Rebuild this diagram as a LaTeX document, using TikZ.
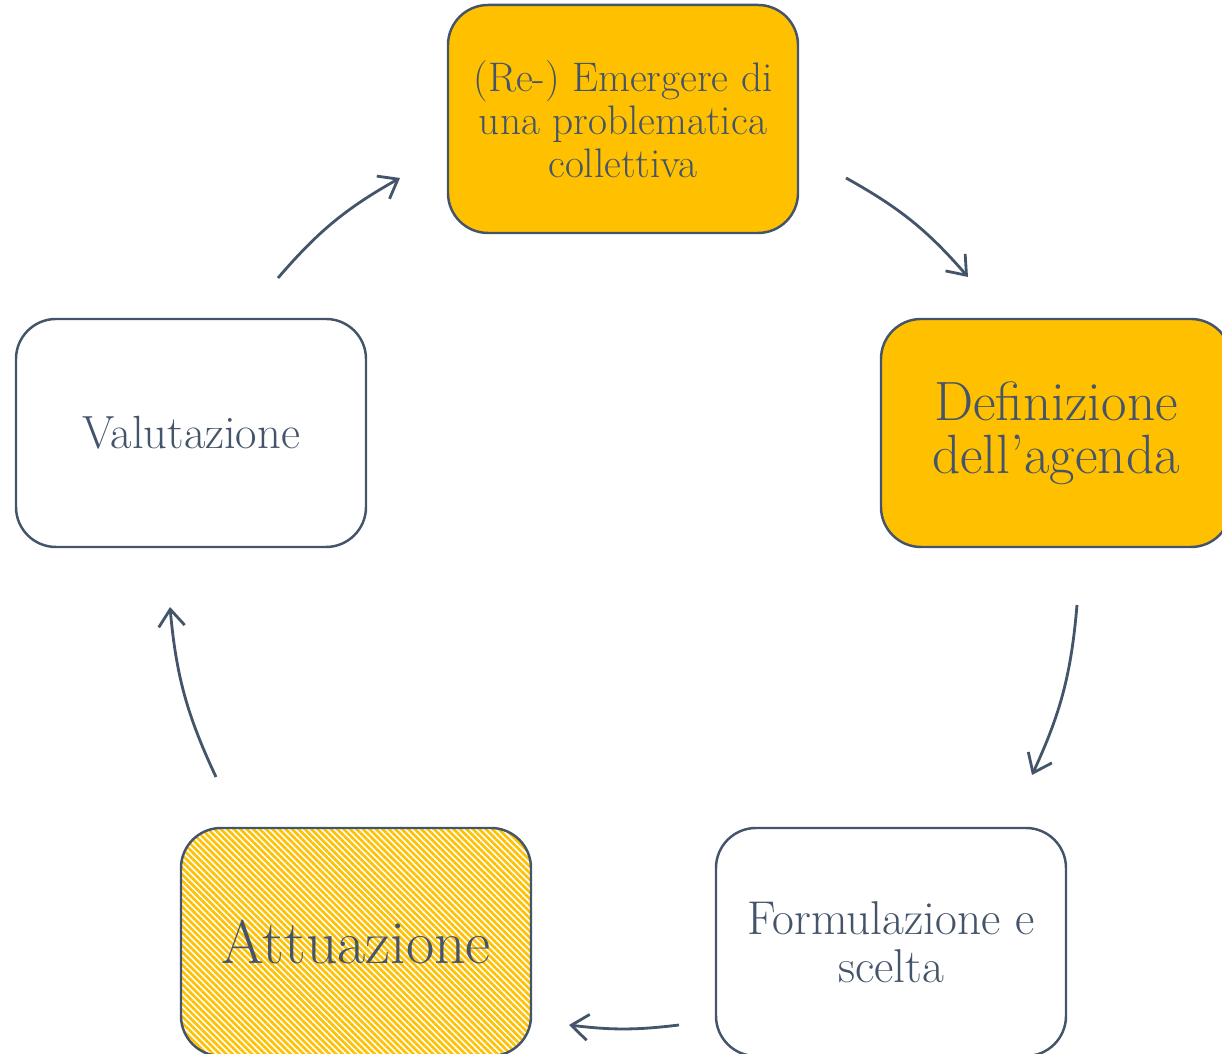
\documentclass[tikz,border=0pt]{standalone}
\usepackage{amsmath}
\usepackage{amssymb}
\usetikzlibrary{arrows.meta,patterns.meta}

\definecolor{oro}{HTML}{FFC000}
\definecolor{grigioblu}{HTML}{44546A}

\begin{document}
\begin{tikzpicture}[x=0.2mm, y=0.2mm,
        fase/.style={draw=grigioblu, line width=1.4pt, rounded corners=8mm,
            minimum width=70mm, minimum height=45.6mm, align=center,
            text=grigioblu, inner sep=0pt},
        piena/.style={fase, fill=oro},
        tratteggiata/.style={fase, pattern={Lines[angle=-45, distance=2.6pt, line width=1.5pt]}, pattern color=oro},
        freccia/.style={draw=grigioblu, line width=1.6pt,
            -{Straight Barb[length=3.4mm, width=5.2mm]}, bend left=10}]
            \useasboundingbox (0, 0) rectangle (1222, 1054);

            \node[piena, font=\fontsize{23.5}{24.5}\selectfont] (emergere) at (623, 935)
                {(Re-) Emergere di\\ una problematica\\ collettiva};
            \node[piena, font=\fontsize{31.5}{30}\selectfont] (agenda) at (1056, 621)
                {Definizione\\ dell'agenda};
            \node[fase, font=\fontsize{27}{27.5}\selectfont] (formulazione) at (891, 112)
                {Formulazione e\\ scelta};
            \node[tratteggiata, font=\fontsize{35}{36}\selectfont] (attuazione) at (356, 112)
                {Attuazione};
            \node[fase, font=\fontsize{26.5}{28}\selectfont] (valutazione) at (191, 621)
                {Valutazione};

            % estremi delle frecce
            \coordinate (v-e0) at (278, 776);
            \coordinate (v-e1) at (400, 876);
            \coordinate (e-a0) at (846, 876);
            \coordinate (e-a1) at (968, 777);
            \coordinate (a-f0) at (1077, 449);
            \coordinate (a-f1) at (1032, 279);
            \coordinate (f-t0) at (679, 29);
            \coordinate (f-t1) at (569, 29);
            \coordinate (t-v0) at (216, 277);
            \coordinate (t-v1) at (170, 447);

            \draw[freccia] (v-e0) to (v-e1);
            \draw[freccia] (e-a0) to (e-a1);
            \draw[freccia] (a-f0) to (a-f1);
            \draw[freccia, bend left=7] (f-t0) to (f-t1);
            \draw[freccia] (t-v0) to (t-v1);
    \end{tikzpicture}
\end{document}
